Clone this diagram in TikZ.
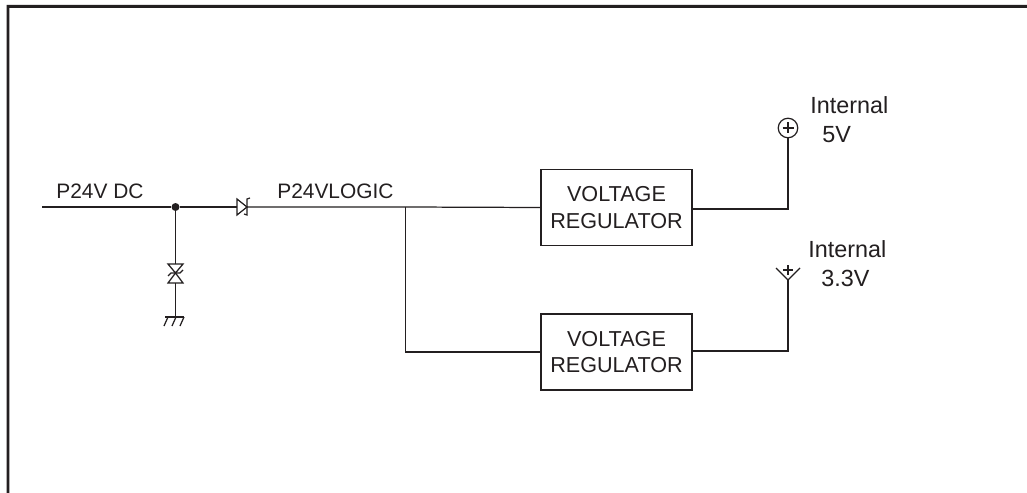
\documentclass[tikz,border=0pt]{standalone}
\usepackage{fontspec}
\setmainfont{Liberation Sans}
\usepackage{xcolor}
\usetikzlibrary{shapes,positioning}
\definecolor{inkgray}{HTML}{231F20}
\tikzset{
    wire/.style={draw=inkgray, line width=0.7pt},
    regbox/.style={draw=inkgray, line width=0.85pt, minimum width=3.02cm, minimum height=1.52cm, inner sep=0pt, align=center, font=\fontsize{12.3}{15}\selectfont, text=inkgray},
    netlabel/.style={anchor=base west, inner sep=0pt, text=inkgray, font=\fontsize{11.9}{14}\selectfont},
    powerlabel/.style={anchor=base west, inner sep=0pt, text=inkgray, font=\fontsize{13.3}{15}\selectfont},
    rail/.style={draw=inkgray, circle, line width=0.7pt, minimum size=0.39cm, inner sep=0pt}
}
\begin{document}
\begin{tikzpicture}[x=0.02cm,y=-0.02cm]
    \useasboundingbox (0,0) rectangle (1027,493);
    \fill[white] (0,0) rectangle (1027,493);
    \fill[inkgray] (6.6,493) -- (6.6,5) -- (1027,5) -- (1027,8) -- (9.4,8) -- (9.4,493) -- cycle;

    \coordinate (dcin) at (42,207);
    \node[circle, fill=inkgray, inner sep=0pt, minimum size=0.16cm] (dcdot) at (175.5,207) {};
    \coordinate (diodeA) at (237,207);
    \coordinate (diodeK) at (247,207);
    \coordinate (logicjoin) at (405.5,207);
    \coordinate (tvsA) at (175.5,264);
    \coordinate (tvsB) at (175.5,283);
    \coordinate (gnd) at (175.5,317);

    \node[regbox] (regtop) at (616.5,207.5) {VOLTAGE\\REGULATOR};
    \node[regbox] (regbot) at (616.5,352) {VOLTAGE\\REGULATOR};
    \node[rail] (railfive) at (788,128) {};
    \coordinate (railthree) at (788,280);
    \coordinate (topout) at (692,209);
    \coordinate (botout) at (692,351);

    \node[netlabel] (dclabel) at (56,198) {P24V DC};
    \node[netlabel] (logiclabel) at (277,198) {P24VLOGIC};
    \node[powerlabel] (fivea) at (810,114) {Internal};
    \node[powerlabel] (fiveb) at (822,143) {5V};
    \node[powerlabel] (threea) at (808,257) {Internal};
    \node[powerlabel] (threeb) at (821,286) {3.3V};

    \draw[wire] (dcin) -- (dcdot) -- (diodeA);
    \draw[wire] (diodeK) -- (logicjoin) -- (regtop.west);
    \draw[wire] (logicjoin) |- (regbot.west);
    \draw[wire] (topout) -| (railfive.south);
    \draw[wire] (botout) -| (railthree);
    \draw[wire] (dcdot) -- (tvsA);
    \draw[wire] (tvsB) -- (gnd);

    % diode on the 24V line
    \draw[wire] (237,199) -- (237,215) -- (247,207) -- cycle;
    \draw[wire] (250,198) -- (247,199) -- (247,215) -- (244,214);

    % clamp to ground
    \draw[wire] (168,264) -- (183,264) -- (175.5,273) -- cycle;
    \draw[wire] (168,283) -- (183,283) -- (175.5,273) -- cycle;
    \draw[wire] (168,276) -- (171,273) -- (180,273) -- (183,270);

    % chassis ground
    \draw[wire] (165,317) -- (184,317);
    \draw[wire] (168,317) -- (164,326);
    \draw[wire] (176,317) -- (172,326);
    \draw[wire] (184,317) -- (180,326);

    % plus signs
    \draw[wire] (782.5,128) -- (793.5,128);
    \draw[wire] (788,122.5) -- (788,133.5);
    \draw[wire] (776,268) -- (railthree) -- (800,268);
    \draw[wire] (783,270) -- (793,270);
    \draw[wire] (788,265) -- (788,275);
\end{tikzpicture}
\end{document}
